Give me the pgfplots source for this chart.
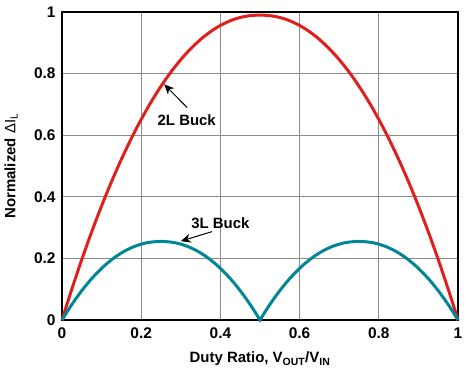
\documentclass[border=0pt]{standalone}
\usepackage{fontspec}
\setmainfont{Liberation Sans}
\usepackage{pgfplots}
\pgfplotsset{compat=1.18}
\usetikzlibrary{arrows.meta}
\definecolor{redline}{RGB}{222,32,30}
\definecolor{tealline}{RGB}{0,134,150}
\definecolor{gridgray}{RGB}{140,140,140}
\begin{document}
\begin{tikzpicture}
\begin{axis}[
  name=ax,
  scale only axis,
  width=396bp, height=308bp,
  xmin=0, xmax=1, ymin=0, ymax=1,
  xtick={0,0.2,0.4,0.6,0.8,1},
  ytick={0,0.2,0.4,0.6,0.8,1},
  grid=major,
  major grid style={gridgray, line width=1bp},
  major tick length=0pt,
  axis line style={black, line width=2.6bp},
  tick label style={font=\bfseries\fontsize{15.5}{17}\selectfont},
  /pgf/number format/assume math mode=true,
  xticklabel style={yshift=-4bp},
  yticklabel style={xshift=-3bp},
  xlabel={\bfseries\fontsize{15}{17}\selectfont Duty Ratio, V\textsubscript{OUT}/V\textsubscript{IN}},
  ylabel={\bfseries\fontsize{15}{17}\selectfont Normalized {\mdseries ΔI\textsubscript{L}}},
  xlabel style={at={(axis description cs:0.5,0)}, anchor=center, yshift=-39bp},
  ylabel style={at={(axis description cs:0,0.5)}, anchor=center, rotate=0, yshift=51bp},
  clip=false,
]
\addplot[redline, line width=3bp, smooth] coordinates {
(0,0) (0.025,0.1011) (0.05,0.1965) (0.075,0.2862) (0.1,0.3704) (0.125,0.4490)
(0.15,0.5218) (0.175,0.5893) (0.2,0.6513) (0.225,0.7079) (0.25,0.7590)
(0.275,0.8049) (0.3,0.8455) (0.325,0.8808) (0.35,0.9110) (0.375,0.9361)
(0.4,0.9563) (0.425,0.9716) (0.45,0.9822) (0.475,0.9881) (0.5,0.9900)
(0.525,0.9881) (0.55,0.9822) (0.575,0.9716) (0.6,0.9563) (0.625,0.9361)
(0.65,0.9110) (0.675,0.8808) (0.7,0.8455) (0.725,0.8049) (0.75,0.7590)
(0.775,0.7079) (0.8,0.6513) (0.825,0.5893) (0.85,0.5218) (0.875,0.4490)
(0.9,0.3704) (0.925,0.2862) (0.95,0.1965) (0.975,0.1011) (1,0)
};
\addplot[tealline, line width=3bp] coordinates {
(0,0) (0.0125,0.0260) (0.025,0.0506) (0.0375,0.0737) (0.05,0.0954) (0.0625,0.1156)
(0.075,0.1344) (0.0875,0.1518) (0.1,0.1678) (0.1125,0.1823) (0.125,0.1955)
(0.1375,0.2073) (0.15,0.2178) (0.1625,0.2269) (0.175,0.2347) (0.1875,0.2411)
(0.2,0.2463) (0.2125,0.2503) (0.225,0.2530) (0.2375,0.2545) (0.25,0.2550)
(0.2625,0.2545) (0.275,0.2530) (0.2875,0.2503) (0.3,0.2463) (0.3125,0.2411)
(0.325,0.2347) (0.3375,0.2269) (0.35,0.2178) (0.3625,0.2073) (0.375,0.1955)
(0.3875,0.1823) (0.4,0.1678) (0.4125,0.1518) (0.425,0.1344) (0.4375,0.1156)
(0.45,0.0954) (0.4625,0.0737) (0.475,0.0506) (0.4875,0.0260) (0.5,0)
(0.5125,0.0260) (0.525,0.0506) (0.5375,0.0737) (0.55,0.0954) (0.5625,0.1156)
(0.575,0.1344) (0.5875,0.1518) (0.6,0.1678) (0.6125,0.1823) (0.625,0.1955)
(0.6375,0.2073) (0.65,0.2178) (0.6625,0.2269) (0.675,0.2347) (0.6875,0.2411)
(0.7,0.2463) (0.7125,0.2503) (0.725,0.2530) (0.7375,0.2545) (0.75,0.2550)
(0.7625,0.2545) (0.775,0.2530) (0.7875,0.2503) (0.8,0.2463) (0.8125,0.2411)
(0.825,0.2347) (0.8375,0.2269) (0.85,0.2178) (0.8625,0.2073) (0.875,0.1955)
(0.8875,0.1823) (0.9,0.1678) (0.9125,0.1518) (0.925,0.1344) (0.9375,0.1156)
(0.95,0.0954) (0.9625,0.0737) (0.975,0.0506) (0.9875,0.0260) (1,0)
};
\node[font=\bfseries\fontsize{15}{17}\selectfont] at (axis cs:0.315,0.65) {2L Buck};
\draw[-{Stealth[length=10bp,width=9bp]}, line width=1bp] (axis cs:0.316,0.69) -- (axis cs:0.258,0.765);
\node[font=\bfseries\fontsize{15}{17}\selectfont] at (axis cs:0.40,0.316) {3L Buck};
\draw[-{Stealth[length=10bp,width=9bp]}, line width=1bp] (axis cs:0.379,0.287) -- (axis cs:0.300,0.256);
\end{axis}
\pgfresetboundingbox
\path ([shift={(-62bp,-53bp)}]ax.south west) rectangle ([shift={(9bp,12bp)}]ax.north east);
\end{tikzpicture}
\end{document}
